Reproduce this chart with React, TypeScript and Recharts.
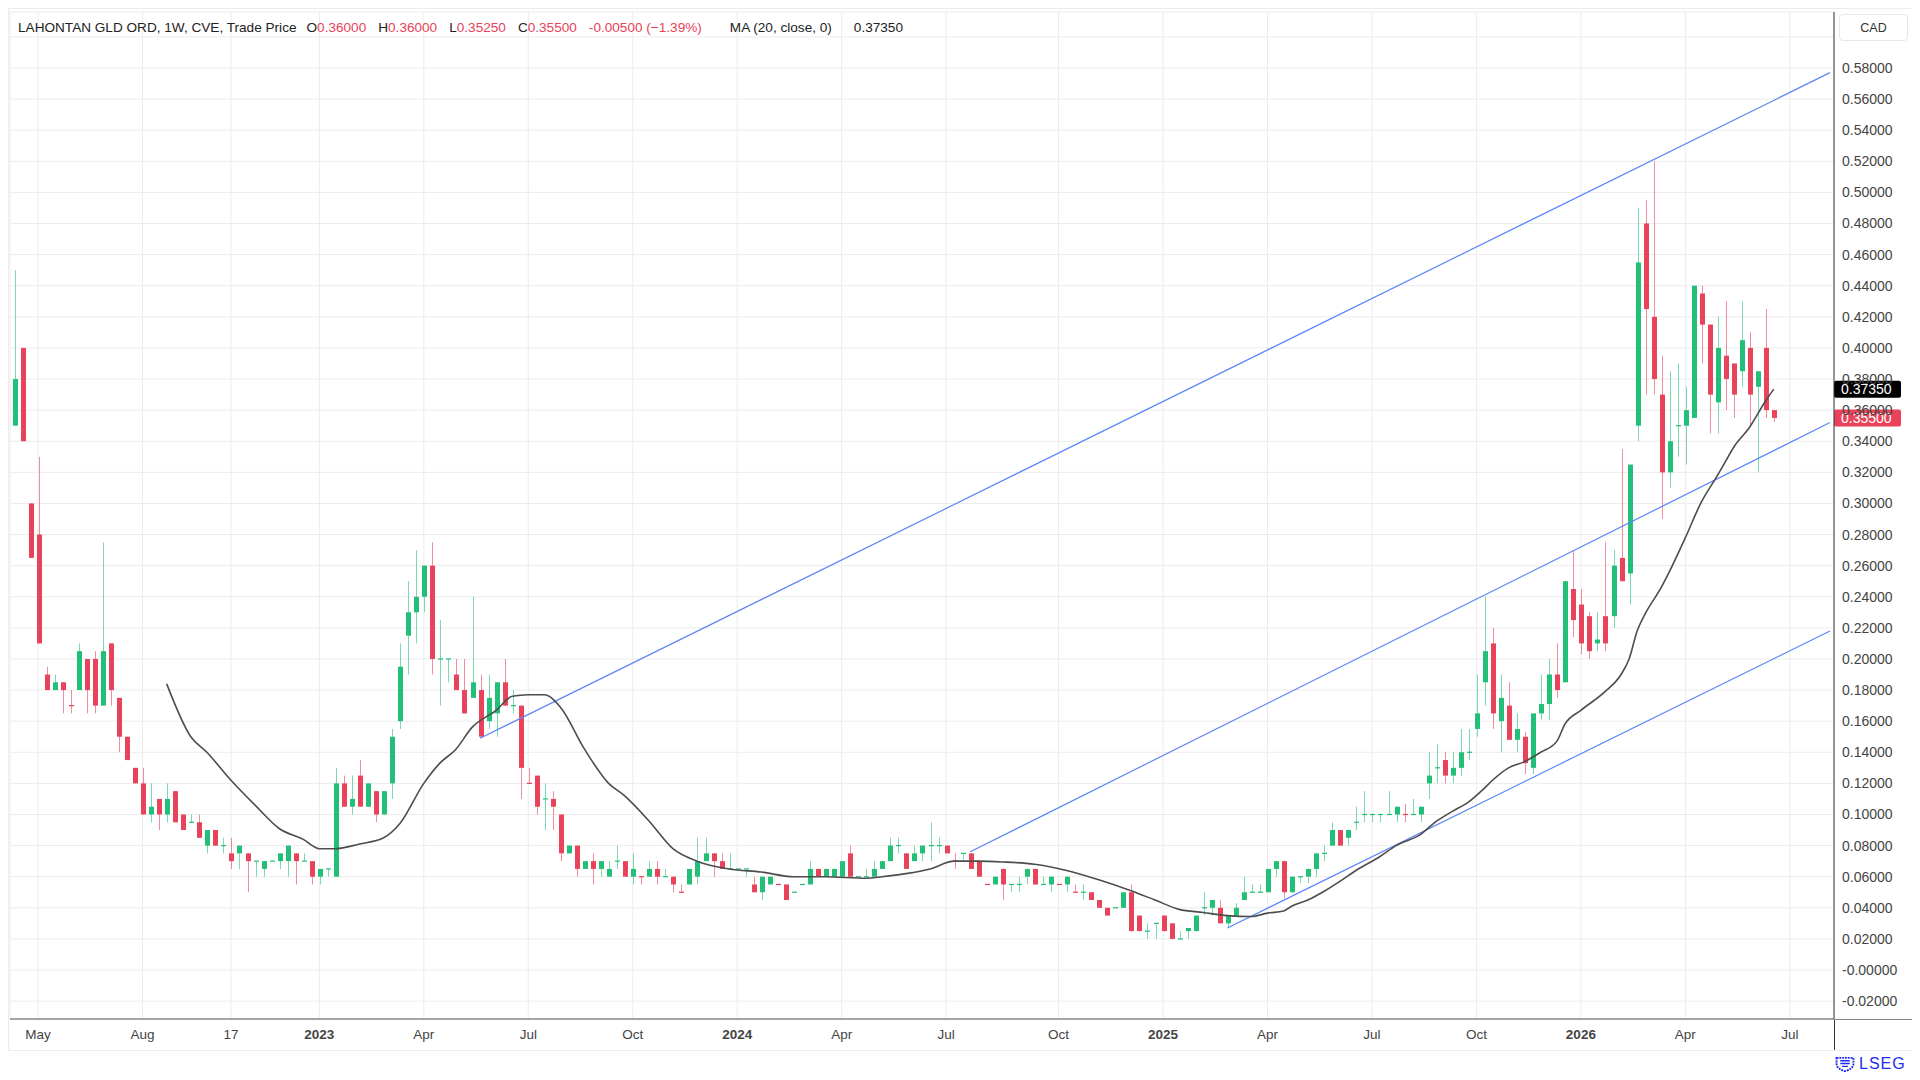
// Weekly candles for LAHONTAN GLD ORD (CVE) with MA(20) and a hand-drawn price channel.
import React from 'react';
import { ComposedChart, Bar, Line, XAxis, YAxis, CartesianGrid, ReferenceLine } from 'recharts';

const FONT = '"Liberation Sans", Arial, Helvetica, sans-serif';
const UP = '#22bf78';
const DOWN = '#e8435a';
const CHANNEL = '#5a86f8';

// first weekly bar (Monday) and number of weekly slots up to the price axis
const FIRST_WEEK = Date.UTC(2022, 3, 11);
const SLOTS = 227;

const opens = [
  0.35, 0.4, 0.3, 0.28, 0.19, 0.18, 0.185, 0.17, 0.18, 0.2,
  0.2, 0.17, 0.21, 0.175, 0.15, 0.13, 0.12, 0.1, 0.11, 0.1,
  0.115, 0.1, 0.095, 0.095, 0.08, 0.09, 0.08, 0.075, 0.075, 0.075,
  0.07, 0.065, 0.07, 0.07, 0.07, 0.075, 0.07, 0.07, 0.06, 0.065,
  0.06, 0.12, 0.105, 0.125, 0.105, 0.115, 0.1, 0.12, 0.16, 0.215,
  0.23, 0.24, 0.26, 0.2, 0.2, 0.19, 0.18, 0.175, 0.18, 0.16,
  0.165, 0.185, 0.17, 0.17, 0.12, 0.125, 0.11, 0.11, 0.1, 0.075,
  0.08, 0.065, 0.07, 0.065, 0.06, 0.07, 0.07, 0.06, 0.06, 0.06,
  0.065, 0.06, 0.06, 0.05, 0.055, 0.06, 0.07, 0.075, 0.07, 0.065,
  0.065, 0.065, 0.055, 0.05, 0.055, 0.055, 0.055, 0.05, 0.055, 0.055,
  0.065, 0.06, 0.06, 0.06, 0.075, 0.06, 0.06, 0.06, 0.065, 0.07,
  0.08, 0.075, 0.07, 0.075, 0.08, 0.08, 0.08, 0.07, 0.075, 0.075,
  0.07, 0.055, 0.055, 0.065, 0.055, 0.055, 0.06, 0.065, 0.055, 0.055,
  0.055, 0.055, 0.05, 0.05, 0.05, 0.045, 0.04, 0.04, 0.04, 0.05,
  0.035, 0.025, 0.03, 0.035, 0.03, 0.02, 0.025, 0.025, 0.04, 0.04,
  0.04, 0.03, 0.035, 0.045, 0.05, 0.05, 0.05, 0.065, 0.07, 0.05,
  0.06, 0.06, 0.065, 0.075, 0.08, 0.09, 0.085, 0.095, 0.1, 0.1,
  0.1, 0.1, 0.1, 0.1, 0.1, 0.1, 0.12, 0.13, 0.135, 0.125,
  0.13, 0.14, 0.155, 0.185, 0.21, 0.16, 0.17, 0.148, 0.15, 0.13,
  0.165, 0.171, 0.19, 0.185, 0.245, 0.235, 0.2275, 0.21, 0.2275, 0.2275,
  0.265, 0.255, 0.35, 0.48, 0.42, 0.37, 0.32, 0.35, 0.35, 0.355,
  0.435, 0.415, 0.365, 0.395, 0.39, 0.385, 0.4, 0.375, 0.4, 0.36,
];

const highs = [
  0.45, 0.4, 0.3, 0.33, 0.195, 0.19, 0.185, 0.18, 0.21, 0.2,
  0.205, 0.275, 0.21, 0.175, 0.15, 0.13, 0.13, 0.12, 0.11, 0.12,
  0.115, 0.1, 0.1, 0.1, 0.09, 0.09, 0.085, 0.085, 0.08, 0.075,
  0.07, 0.07, 0.07, 0.075, 0.08, 0.075, 0.075, 0.07, 0.065, 0.065,
  0.13, 0.125, 0.125, 0.135, 0.12, 0.115, 0.115, 0.155, 0.21, 0.25,
  0.27, 0.26, 0.275, 0.225, 0.2, 0.2, 0.2, 0.24, 0.19, 0.19,
  0.185, 0.2, 0.18, 0.17, 0.13, 0.125, 0.12, 0.115, 0.1, 0.08,
  0.08, 0.07, 0.075, 0.07, 0.07, 0.08, 0.07, 0.075, 0.06, 0.07,
  0.07, 0.065, 0.06, 0.055, 0.065, 0.085, 0.085, 0.075, 0.075, 0.075,
  0.065, 0.065, 0.06, 0.06, 0.06, 0.055, 0.055, 0.05, 0.055, 0.07,
  0.065, 0.065, 0.065, 0.07, 0.08, 0.06, 0.065, 0.07, 0.07, 0.085,
  0.085, 0.075, 0.08, 0.08, 0.095, 0.085, 0.08, 0.075, 0.075, 0.075,
  0.07, 0.055, 0.06, 0.065, 0.055, 0.06, 0.065, 0.065, 0.06, 0.06,
  0.055, 0.06, 0.055, 0.055, 0.05, 0.045, 0.04, 0.04, 0.05, 0.055,
  0.035, 0.03, 0.03, 0.035, 0.03, 0.025, 0.027, 0.035, 0.05, 0.045,
  0.045, 0.035, 0.043, 0.06, 0.055, 0.055, 0.065, 0.07, 0.07, 0.06,
  0.06, 0.065, 0.075, 0.08, 0.095, 0.09, 0.09, 0.105, 0.115, 0.1,
  0.1, 0.115, 0.105, 0.107, 0.11, 0.105, 0.14, 0.145, 0.14, 0.14,
  0.155, 0.155, 0.19, 0.24, 0.22, 0.19, 0.185, 0.165, 0.153, 0.165,
  0.19, 0.2, 0.21, 0.25, 0.27, 0.245, 0.23, 0.23, 0.275, 0.27,
  0.335, 0.325, 0.49, 0.495, 0.52, 0.395, 0.385, 0.39, 0.375, 0.44,
  0.44, 0.415, 0.42, 0.43, 0.39, 0.43, 0.41, 0.385, 0.425, 0.36,
];

const lows = [
  0.35, 0.34, 0.265, 0.21, 0.18, 0.18, 0.165, 0.165, 0.18, 0.165,
  0.165, 0.17, 0.17, 0.14, 0.135, 0.12, 0.1, 0.095, 0.09, 0.095,
  0.095, 0.09, 0.095, 0.085, 0.075, 0.08, 0.075, 0.065, 0.065, 0.05,
  0.06, 0.06, 0.07, 0.065, 0.06, 0.055, 0.07, 0.055, 0.055, 0.06,
  0.06, 0.105, 0.1, 0.105, 0.105, 0.095, 0.1, 0.11, 0.155, 0.19,
  0.21, 0.23, 0.19, 0.17, 0.185, 0.18, 0.165, 0.175, 0.15, 0.155,
  0.15, 0.17, 0.165, 0.11, 0.12, 0.1, 0.09, 0.09, 0.07, 0.075,
  0.06, 0.065, 0.055, 0.06, 0.06, 0.065, 0.06, 0.055, 0.055, 0.06,
  0.055, 0.06, 0.05, 0.05, 0.055, 0.055, 0.07, 0.06, 0.065, 0.065,
  0.065, 0.06, 0.05, 0.045, 0.055, 0.055, 0.045, 0.05, 0.055, 0.055,
  0.06, 0.06, 0.06, 0.06, 0.06, 0.06, 0.06, 0.06, 0.065, 0.07,
  0.075, 0.065, 0.07, 0.07, 0.07, 0.075, 0.075, 0.065, 0.07, 0.065,
  0.06, 0.055, 0.055, 0.045, 0.05, 0.05, 0.055, 0.055, 0.055, 0.05,
  0.055, 0.05, 0.05, 0.045, 0.045, 0.04, 0.035, 0.04, 0.04, 0.025,
  0.025, 0.02, 0.02, 0.025, 0.02, 0.02, 0.02, 0.025, 0.035, 0.035,
  0.03, 0.027, 0.035, 0.045, 0.05, 0.05, 0.05, 0.06, 0.046, 0.05,
  0.056, 0.056, 0.06, 0.07, 0.08, 0.08, 0.08, 0.09, 0.095, 0.095,
  0.095, 0.1, 0.095, 0.095, 0.1, 0.095, 0.11, 0.12, 0.12, 0.12,
  0.125, 0.135, 0.15, 0.17, 0.155, 0.14, 0.148, 0.14, 0.126, 0.126,
  0.161, 0.161, 0.175, 0.185, 0.214, 0.203, 0.2, 0.205, 0.205, 0.22,
  0.25, 0.235, 0.34, 0.37, 0.37, 0.29, 0.31, 0.33, 0.325, 0.355,
  0.39, 0.345, 0.345, 0.36, 0.355, 0.375, 0.35, 0.32, 0.355, 0.3525,
];

const closes = [
  0.38, 0.34, 0.265, 0.21, 0.18, 0.185, 0.18, 0.17, 0.205, 0.18,
  0.17, 0.205, 0.18, 0.15, 0.135, 0.12, 0.1, 0.105, 0.1, 0.11,
  0.095, 0.09, 0.095, 0.085, 0.09, 0.08, 0.08, 0.07, 0.08, 0.07,
  0.07, 0.07, 0.07, 0.075, 0.08, 0.07, 0.07, 0.06, 0.065, 0.065,
  0.12, 0.105, 0.11, 0.105, 0.12, 0.1, 0.115, 0.15, 0.195, 0.23,
  0.24, 0.26, 0.2, 0.2, 0.2, 0.18, 0.165, 0.185, 0.15, 0.175,
  0.185, 0.17, 0.17, 0.13, 0.12, 0.105, 0.11, 0.105, 0.075, 0.08,
  0.065, 0.07, 0.065, 0.07, 0.065, 0.07, 0.06, 0.065, 0.06, 0.065,
  0.06, 0.06, 0.055, 0.05, 0.065, 0.07, 0.075, 0.07, 0.065, 0.065,
  0.065, 0.065, 0.05, 0.06, 0.06, 0.055, 0.045, 0.05, 0.055, 0.065,
  0.06, 0.065, 0.065, 0.07, 0.06, 0.06, 0.06, 0.065, 0.07, 0.08,
  0.08, 0.065, 0.075, 0.08, 0.08, 0.08, 0.075, 0.07, 0.075, 0.065,
  0.06, 0.055, 0.06, 0.055, 0.055, 0.055, 0.065, 0.055, 0.055, 0.06,
  0.055, 0.06, 0.05, 0.05, 0.045, 0.04, 0.035, 0.04, 0.05, 0.025,
  0.025, 0.025, 0.03, 0.025, 0.02, 0.02, 0.027, 0.035, 0.04, 0.045,
  0.03, 0.035, 0.04, 0.05, 0.05, 0.05, 0.065, 0.07, 0.05, 0.06,
  0.06, 0.065, 0.075, 0.075, 0.09, 0.08, 0.09, 0.095, 0.1, 0.1,
  0.1, 0.1, 0.105, 0.1, 0.1, 0.105, 0.125, 0.13, 0.125, 0.13,
  0.14, 0.14, 0.165, 0.205, 0.165, 0.175, 0.148, 0.155, 0.133, 0.165,
  0.171, 0.19, 0.18, 0.25, 0.225, 0.21, 0.205, 0.2125, 0.21, 0.26,
  0.25, 0.325, 0.455, 0.425, 0.38, 0.32, 0.34, 0.35, 0.36, 0.44,
  0.415, 0.37, 0.4, 0.38, 0.37, 0.405, 0.37, 0.385, 0.36, 0.355,
];

// MA(20, close): [week index, value]
const maPoints: [number, number][] = [
  [19, 0.184], [22, 0.15], [24, 0.14], [27, 0.122], [30, 0.106], [33, 0.091],
  [36, 0.084], [38, 0.078], [40, 0.078], [43, 0.081], [46, 0.085], [48, 0.094],
  [51, 0.12], [53, 0.133], [55, 0.142], [57, 0.156], [60, 0.167], [62, 0.176],
  [64, 0.177], [66, 0.177], [68, 0.169], [71, 0.142], [74, 0.12], [76, 0.112],
  [79, 0.096], [82, 0.078], [85, 0.07], [89, 0.065], [93, 0.063], [97, 0.06],
  [101, 0.06], [106, 0.059], [108, 0.06], [111, 0.062], [114, 0.065], [117, 0.07],
  [120, 0.07], [123, 0.0695], [127, 0.068], [131, 0.064], [135, 0.058], [139, 0.051],
  [142, 0.045], [145, 0.039], [148, 0.037], [151, 0.035], [154, 0.0344], [156, 0.0366],
  [158, 0.038], [159, 0.041], [161, 0.045], [163, 0.0505], [165, 0.057], [167, 0.064],
  [170, 0.073], [172, 0.08], [175, 0.087], [177, 0.0956], [179, 0.102], [181, 0.108],
  [183, 0.117], [184, 0.122], [186, 0.13], [188, 0.134], [190, 0.14], [192, 0.147],
  [193, 0.158], [195, 0.167], [198, 0.179], [200, 0.19], [201, 0.2], [202, 0.218],
  [203, 0.229], [205, 0.246], [206, 0.256], [208, 0.278], [210, 0.301], [212, 0.318],
  [213, 0.327], [214, 0.336], [216, 0.349], [218, 0.366], [219, 0.3735],
];

// drawn channel lines: [week index, price]
const upperChannel: [number, number][] = [[58, 0.149], [226, 0.577]];
const middleChannel: [number, number][] = [[119, 0.076], [226, 0.352]];
const lowerChannel: [number, number][] = [[151, 0.027], [226, 0.218]];

const xTickWeeks = [
  '2022-05-02', '2022-08-01', '2022-10-17', '2023-01-02', '2023-04-03', '2023-07-03',
  '2023-10-02', '2024-01-01', '2024-04-01', '2024-07-01', '2024-10-07', '2025-01-06',
  '2025-04-07', '2025-07-07', '2025-10-06', '2026-01-05', '2026-04-06', '2026-07-06',
];
const xTickLabels = [
  'May', 'Aug', '17', '2023', 'Apr', 'Jul', 'Oct', '2024', 'Apr', 'Jul', 'Oct', '2025',
  'Apr', 'Jul', 'Oct', '2026', 'Apr', 'Jul',
];
const yTicks = [
  -0.02, 0, 0.02, 0.04, 0.06, 0.08, 0.1, 0.12, 0.14, 0.16, 0.18, 0.2, 0.22, 0.24, 0.26, 0.28,
  0.3, 0.32, 0.34, 0.36, 0.38, 0.4, 0.42, 0.44, 0.46, 0.48, 0.5, 0.52, 0.54, 0.56, 0.58, 0.6,
];

const weekOf = (i: number) => new Date(FIRST_WEEK + i * 7 * 86400000).toISOString().slice(0, 10);

const rows: any[] = Array.from({ length: SLOTS }, (_, i) => {
  const row: any = { week: weekOf(i) };
  if (i < closes.length) {
    const o = opens[i];
    const c = closes[i];
    const prev = i > 0 ? closes[i - 1] : o;
    row.o = o;
    row.h = highs[i];
    row.l = lows[i];
    row.c = c;
    row.up = c > o || (c === o && c >= prev);
    row.range = [lows[i], highs[i]];
  }
  return row;
});
const put = (pts: [number, number][], key: string) =>
  pts.forEach(([i, v]) => {
    rows[i][key] = v;
  });
put(maPoints, 'ma');
put(upperChannel, 'chUp');
put(middleChannel, 'chMid');
put(lowerChannel, 'chLow');

function Candle(props: any) {
  const { x, y, width, height, payload } = props;
  if (!payload || payload.o == null) return null;
  const { o, h, l, c, up } = payload;
  const color = up ? UP : DOWN;
  const cx = Math.round(x + width / 2) + 0.5;
  const pxPer = h > l ? height / (h - l) : 0;
  const yOf = (v: number) => y + (h - v) * pxPer;
  const top = yOf(Math.max(o, c));
  const bot = yOf(Math.min(o, c));
  const bodyH = Math.max(1.2, bot - top);
  const bodyY = bot - top < 1.2 ? (top + bot) / 2 - 0.6 : top;
  return (
    <g>
      <line x1={cx} x2={cx} y1={y} y2={y + height} stroke={color} strokeOpacity={0.6} strokeWidth={1} />
      <rect x={cx - 2.5} y={bodyY} width={5} height={bodyH} fill={color} />
    </g>
  );
}

function WeekTick(props: any) {
  const { x, y, payload } = props;
  const label = xTickLabels[xTickWeeks.indexOf(payload.value)] ?? '';
  const bold = /^\d{4}$/.test(label);
  return (
    <text x={x} y={y} dy={14} textAnchor="middle" fontSize={13.5} fontFamily={FONT}
      fontWeight={bold ? 700 : 400} fill="#444">
      {label}
    </text>
  );
}

function PriceTag(props: any) {
  const { viewBox, bg, text } = props;
  if (!viewBox) return null;
  const left = viewBox.x + viewBox.width;
  return (
    <g>
      <rect x={left} y={viewBox.y - 8.5} width={67} height={17} rx={2} fill={bg} />
      <text x={left + 7} y={viewBox.y + 5} fill="#fff" fontSize={14} fontFamily={FONT}>{text}</text>
    </g>
  );
}

const fmtPrice = (v: number) => {
  if (v > 0.59) return '';
  if (Math.abs(v) < 1e-9) return '-0.00000';
  return v.toFixed(5);
};

const red = { color: DOWN };

export default function App() {
  return (
    <div style={{ position: 'relative', width: 1905, height: 1064, fontFamily: FONT }}>
      <div style={{ position: 'absolute', left: 0, top: 0, width: 1903, height: 1041, border: '1px solid #ececec' }}>
        <ComposedChart width={1902} height={1040} data={rows} margin={{ top: 3, right: 0, bottom: 0, left: 1 }}>
          <CartesianGrid stroke="#ececec" />
          <XAxis dataKey="week" ticks={xTickWeeks} interval={0} tickLine={false} tickSize={0} tickMargin={6}
            height={30} axisLine={{ stroke: '#8a8a8a', strokeWidth: 1.5 }} tick={<WeekTick />} />
          <YAxis orientation="right" type="number" width={77} domain={[-0.0315, 0.616]} allowDataOverflow
            ticks={yTicks} interval={0} tickLine={false} tickSize={0} tickMargin={8}
            axisLine={{ stroke: '#333' }} tickFormatter={fmtPrice}
            tick={{ fill: '#444', fontSize: 14, fontFamily: FONT }} />
          <Bar dataKey="range" barSize={5} shape={<Candle />} isAnimationActive={false} />
          <Line dataKey="chUp" type="linear" stroke={CHANNEL} strokeWidth={1.2} dot={false} connectNulls
            isAnimationActive={false} />
          <Line dataKey="chMid" type="linear" stroke={CHANNEL} strokeWidth={1.2} dot={false} connectNulls
            isAnimationActive={false} />
          <Line dataKey="chLow" type="linear" stroke={CHANNEL} strokeWidth={1.2} dot={false} connectNulls
            isAnimationActive={false} />
          <Line dataKey="ma" type="monotone" stroke="#4d4d4d" strokeWidth={1.6} dot={false} connectNulls
            isAnimationActive={false} />
          <ReferenceLine y={0.3735} stroke="none" label={<PriceTag bg="#000000" text="0.37350" />} />
          <ReferenceLine y={0.355} stroke="none" label={<PriceTag bg={DOWN} text="0.35500" />} />
        </ComposedChart>

        {/* header */}
        <div style={{ position: 'absolute', left: 9, top: 11, fontSize: 13.6, color: '#222', whiteSpace: 'nowrap' }}>
          <span>LAHONTAN GLD ORD, 1W, CVE, Trade Price</span>
          <span style={{ marginLeft: 10 }}>O<span style={red}>0.36000</span></span>
          <span style={{ marginLeft: 12 }}>H<span style={red}>0.36000</span></span>
          <span style={{ marginLeft: 12 }}>L<span style={red}>0.35250</span></span>
          <span style={{ marginLeft: 12 }}>C<span style={red}>0.35500</span></span>
          <span style={{ marginLeft: 12, ...red }}>-0.00500 (−1.39%)</span>
          <span style={{ marginLeft: 28 }}>MA (20, close, 0)</span>
          <span style={{ marginLeft: 22 }}>0.37350</span>
        </div>

        {/* currency box */}
        <div style={{
          position: 'absolute', left: 1830, top: 5, width: 67, height: 25, border: '1px solid #e6e6e6',
          borderRadius: 4, fontSize: 12.5, color: '#333', display: 'flex', alignItems: 'center', justifyContent: 'center',
        }}>CAD</div>

        {/* axis line extensions into the corner */}
        <div style={{ position: 'absolute', left: 1825, top: 1010, width: 1, height: 31, background: '#333' }} />
        <div style={{ position: 'absolute', left: 1825, top: 1009.5, width: 78, height: 1.5, background: '#8a8a8a' }} />
      </div>

      {/* logo */}
      <div style={{
        position: 'absolute', left: 1826, top: 1047, height: 17, display: 'flex', alignItems: 'center', gap: 3,
        color: '#1a2cf0', fontSize: 16, letterSpacing: 1, lineHeight: '17px',
      }}>
        <svg width={22} height={16} viewBox="0 0 22 17">
          <path d="M2 2h18v6c0 4-4 7-9 8-5-1-9-4-9-8z" fill="none" stroke="#1a2cf0" strokeWidth={2} strokeDasharray="2 1" />
          <path d="M6 5h10M6 8h10M8 11h6" stroke="#1a2cf0" strokeWidth={1.5} />
        </svg>
        <span>LSEG</span>
      </div>
    </div>
  );
}
